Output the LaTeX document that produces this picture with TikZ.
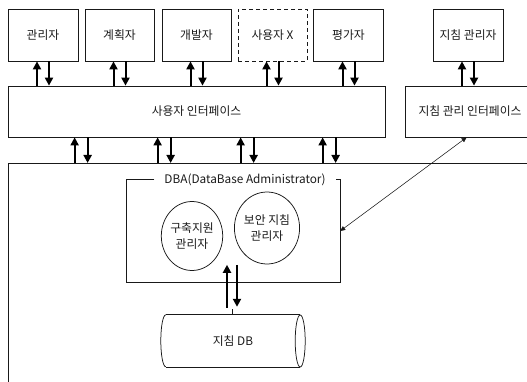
\documentclass[tikz,border=0pt]{standalone}
\usepackage{fontspec}
\setmainfont{Noto Sans CJK KR}
\usetikzlibrary{arrows.meta,shapes.geometric}
\definecolor{ink}{gray}{0.1}
\begin{document}
\begin{tikzpicture}[x=1pt,y=-1pt,
  every node/.style={font=\fontsize{11.8}{16}\selectfont, text=ink},
  box/.style={draw=ink, line width=0.75pt, inner sep=0pt, minimum height=52pt},
  dbox/.style={box, dash pattern=on 4pt off 3pt},
  oval/.style={ellipse, draw=ink, line width=0.75pt, inner sep=0pt, align=center},
  arr/.style={draw=black, line width=2pt, -{Triangle[length=8pt,width=8pt]}},
  thin arr/.style={draw=ink, line width=0.55pt, {Triangle[length=5pt,width=4.5pt]}-{Triangle[length=5pt,width=4.5pt]}},
  frame/.style={draw=ink, line width=0.75pt}]
\useasboundingbox (0,0) rectangle (527,382);
% top actors
\node[box, minimum width=70pt] (mgr)  at (43,35)    {관리자};
\node[box, minimum width=69pt] (plan) at (119.5,35) {계획자};
\node[box, minimum width=69pt] (dev)  at (196.5,35) {개발자};
\node[dbox, minimum width=69pt] (usx) at (272.5,35) {사용자 X};
\node[box, minimum width=70pt] (eval) at (348.5,35) {평가자};
\node[box, minimum width=70pt] (gmgr) at (468,35)   {지침 관리자};
% interfaces
\node[box, minimum width=377pt, minimum height=51pt] (ui)  at (196.5,111.5) {사용자 인터페이스};
\node[box, minimum width=130pt, minimum height=51pt] (gui) at (470,111.5)   {지침 관리 인터페이스};
% arrows actors <-> interfaces
\foreach \n/\t in {mgr/ui,plan/ui,dev/ui,usx/ui,eval/ui,gmgr/gui}{
  \coordinate (\n-l) at ([xshift=-6pt]\n.south);
  \coordinate (\n-r) at ([xshift=6pt]\n.south);
  \draw[arr] (\n-l |- \t.north) -- (\n-l);
  \draw[arr] (\n-r) -- (\n-r |- \t.north);
}
% system frame
\node[frame, anchor=north west, minimum width=560pt, minimum height=240pt, inner sep=0pt] (sys) at (8,163) {};
\foreach \i/\x in {1/67,2/150,3/233,4/315}{
  \coordinate (u\i-l) at ([xshift=\x pt]ui.south west);
  \coordinate (u\i-r) at ([xshift=\x pt+13pt]ui.south west);
  \draw[arr] (u\i-l |- sys.north) -- (u\i-l);
  \draw[arr] (u\i-r) -- (u\i-r |- sys.north);
}
% DBA frame
\node[inner sep=0pt, minimum width=213pt, minimum height=102pt] (dba) at (233.5,231) {};
\node[inner xsep=10pt, inner ysep=0pt] (dbal) at (245,180) {DBA(DataBase Administrator)};
\draw[frame] (dbal.west |- dba.north) -- (dba.north west) -- (dba.south west) -- (dba.south east) -- (dba.north east) -- (dbal.east |- dba.north);
% ovals
\node[oval, minimum width=59pt, minimum height=69pt] (e1) at (192,236) {구축지원\\관리자};
\node[oval, minimum width=58pt, minimum height=72pt] (e2) at (267,228) {보안 지침\\관리자};
% DB cylinder
\node[inner sep=0pt, minimum width=134pt, minimum height=52pt] (db) at (233,341) {지침 DB};
\draw[frame] (db.north west) -- (db.north east);
\draw[frame] (db.south west) -- (db.south east);
\draw[frame] (db.east) ellipse[x radius=5pt, y radius=26pt];
\draw[frame] (db.north west) arc[start angle=90, end angle=270, x radius=5pt, y radius=26pt];
\coordinate (dbu) at ([xshift=-6pt,yshift=7pt]db.north);
\coordinate (dbd) at ([xshift=4pt,yshift=8pt]db.north);
\draw[arr] (dbu) -- ([yshift=43pt]dbu);
\draw[arr] ([yshift=42pt]dbd) -- (dbd);
\draw[draw=ink, line width=0.5pt] ([xshift=-1pt]db.north) -- ([xshift=-1pt,yshift=6pt]db.north);
% diagonal link
\coordinate (gl) at ([xshift=62pt]gui.south west);
\draw[thin arr] (gl) -- (dba.east);
\end{tikzpicture}
\end{document}
